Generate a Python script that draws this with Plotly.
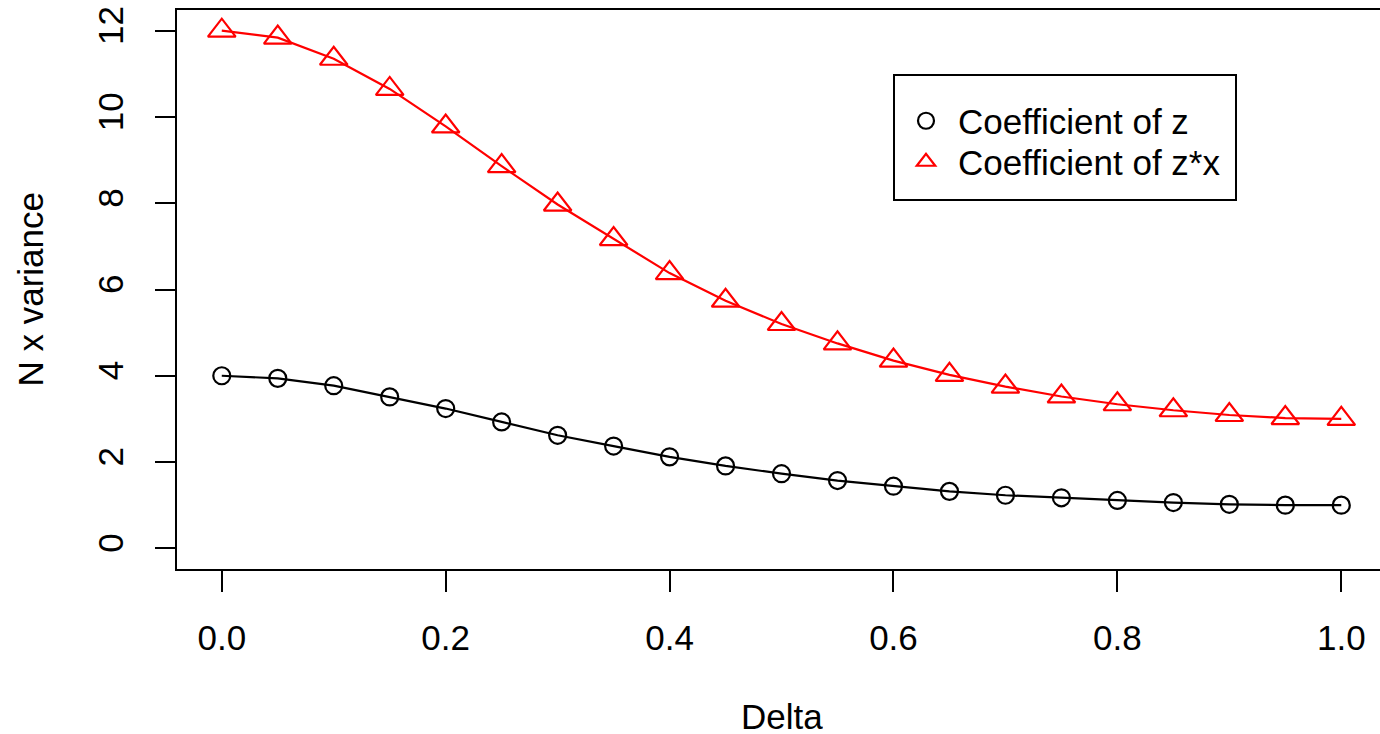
import plotly.graph_objects as go

# ---- data ----
delta = [0.00, 0.05, 0.10, 0.15, 0.20, 0.25, 0.30, 0.35, 0.40, 0.45, 0.50,
         0.55, 0.60, 0.65, 0.70, 0.75, 0.80, 0.85, 0.90, 0.95, 1.00]
coef_z = [4.00, 3.94, 3.77, 3.51, 3.24, 2.93, 2.62, 2.37, 2.12, 1.91, 1.73,
          1.57, 1.44, 1.32, 1.23, 1.17, 1.11, 1.06, 1.02, 1.00, 1.00]
coef_zx = [12.00, 11.84, 11.35, 10.65, 9.78, 8.86, 7.97, 7.17, 6.38, 5.74, 5.20,
           4.75, 4.35, 4.02, 3.75, 3.52, 3.34, 3.20, 3.09, 3.02, 3.00]
series_names = ["Coefficient of z", "Coefficient of z*x"]
x_ticks = [0.0, 0.2, 0.4, 0.6, 0.8, 1.0]
x_ticktext = ["0.0", "0.2", "0.4", "0.6", "0.8", "1.0"]
y_ticks = [0, 2, 4, 6, 8, 10, 12]
y_ticktext = ["0", "2", "4", "6", "8", "10", "12"]

FONT = "Liberation Sans, Arial, Helvetica, sans-serif"
FS = 35
W, H = 1380, 734
ML, MR, MT, MB = 177, 0, 10, 165

fig = go.Figure()

# lines (no legend)
fig.add_trace(go.Scatter(x=delta, y=coef_z, mode="lines",
                         line=dict(color="black", width=2.2), showlegend=False, hoverinfo="skip"))
fig.add_trace(go.Scatter(x=delta, y=coef_zx, mode="lines",
                         line=dict(color="red", width=2.2), showlegend=False, hoverinfo="skip"))
# markers (with legend)
fig.add_trace(go.Scatter(x=delta, y=coef_z, mode="markers", name=series_names[0],
                         legend="legend",
                         marker=dict(symbol="circle-open", size=17, color="black",
                                     line=dict(color="black", width=2.2))))
fig.add_trace(go.Scatter(x=delta, y=coef_zx, mode="markers", name=series_names[1],
                         legend="legend2",
                         marker=dict(symbol="triangle-up-open", size=24, color="red",
                                     line=dict(color="red", width=2.2))))

plot_w = W - ML - MR
plot_h = H - MT - MB

def px_x(p):
    return (p - ML) / plot_w

def px_y(p):
    return (H - MB - p) / plot_h

# legend box
fig.add_shape(type="rect", xref="paper", yref="paper",
              x0=px_x(894), x1=px_x(1236), y0=px_y(200), y1=px_y(75),
              line=dict(color="black", width=2), fillcolor="white", layer="below")

# axis titles
fig.add_annotation(text="Delta", xref="x", yref="paper", x=0.5, y=0,
                   yanchor="middle", xanchor="center", yshift=-147, height=30,
                   valign="middle", showarrow=False,
                   font=dict(family=FONT, size=FS, color="black"))
fig.add_annotation(text="N x variance", xref="paper", yref="paper", x=0, y=0.5,
                   xanchor="center", yanchor="middle", xshift=30 - ML, showarrow=False,
                   textangle=-90, font=dict(family=FONT, size=FS, color="black"))

leg_common = dict(xref="container", yref="container", x=894 / W,
                  xanchor="left", yanchor="middle", bgcolor="rgba(0,0,0,0)",
                  borderwidth=0, itemwidth=54,
                  font=dict(family=FONT, size=FS, color="black"))

fig.update_layout(
    width=W, height=H,
    margin=dict(l=ML, r=MR, t=MT, b=MB, autoexpand=False),
    paper_bgcolor="white", plot_bgcolor="white",
    font=dict(family=FONT, size=FS, color="black"),
    showlegend=True,
    legend=dict(y=1 - 121 / H, **leg_common),
    legend2=dict(y=1 - 162 / H, **leg_common),
)

fig.update_xaxes(range=[-0.04, -0.04 + plot_w / 1119.5], tickmode="array",
                 tickvals=x_ticks, ticktext=x_ticktext, ticks="outside", ticklen=21,
                 tickwidth=2, tickcolor="black", showline=True, linecolor="black",
                 linewidth=2, mirror=True, showgrid=False, zeroline=False,
                 ticklabelstandoff=16, automargin=False)
fig.update_yaxes(range=[-0.48, 12.48], tickmode="array", tickvals=y_ticks,
                 ticktext=y_ticktext, ticks="outside", ticklen=20, tickwidth=2,
                 tickcolor="black", showline=True, linecolor="black", linewidth=2,
                 mirror=False, showgrid=False, zeroline=False, tickangle=-90,
                 ticklabelstandoff=18, automargin=False)

fig.write_html("out.html")
